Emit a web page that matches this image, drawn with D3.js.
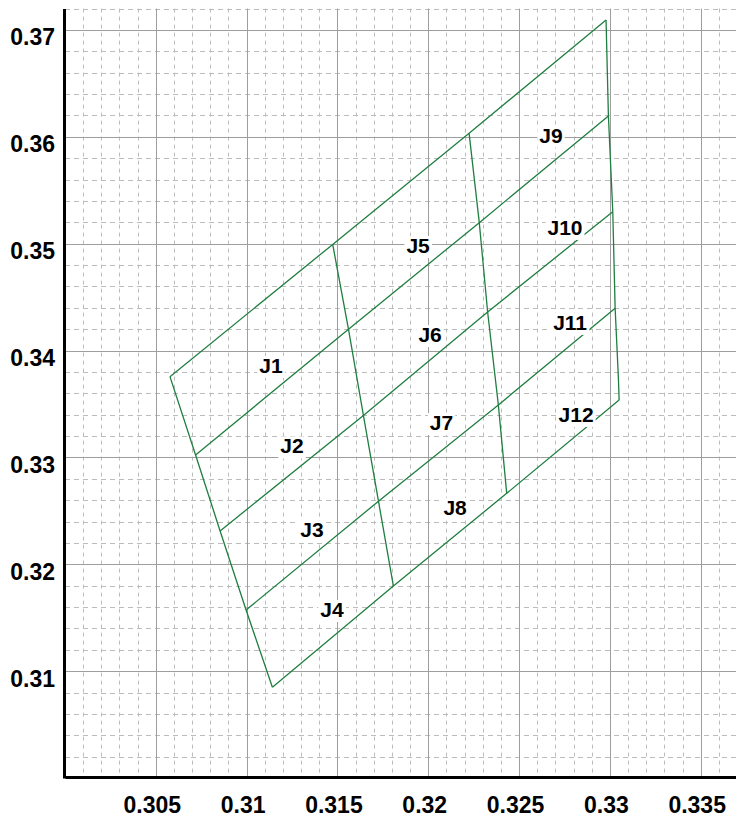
<!DOCTYPE html>
<html>
<head>
<meta charset="utf-8">
<script src="https://cdn.jsdelivr.net/npm/d3@7"></script>
<style>
body { margin: 0; background: #fff; }
text { font-family: "Liberation Sans", Arial, sans-serif; font-weight: bold; fill: #000; }
</style>
</head>
<body>
<script>
// bin grid nodes (x, y), each row goes left edge -> divider 1 -> divider 2 -> right edge
var topEdge    = [[0.30578, 0.33756], [0.31474, 0.34993], [0.32225, 0.36033], [0.32979, 0.37094]];
var row1       = [[0.30719, 0.33023], [0.31561, 0.34199], [0.32281, 0.35197], [0.32992, 0.36195]];
var row2       = [[0.30854, 0.32312], [0.31643, 0.33393], [0.32327, 0.34361], [0.33016, 0.35300]];
var row3       = [[0.30997, 0.31572], [0.31726, 0.32590], [0.32386, 0.33491], [0.33029, 0.34396]];
var bottomEdge = [[0.31142, 0.30849], [0.31808, 0.31797], [0.32432, 0.32664], [0.33051, 0.33538]];
// extra bend on the right edge between row3 and the bottom corner
var rightBend = [0.33047, 0.33741];

var binNames = ['J1', 'J2', 'J3', 'J4', 'J5', 'J6', 'J7', 'J8', 'J9', 'J10', 'J11', 'J12'];
var binX = [0.31134, 0.31250, 0.31360, 0.31470, 0.31944, 0.32010, 0.32073, 0.32148, 0.32676, 0.32753, 0.32781, 0.32814];
var binY = [0.33860, 0.33107, 0.32321, 0.31577, 0.34983, 0.34150, 0.33327, 0.32531, 0.36017, 0.35152, 0.34263, 0.33402];

var xTicks = [0.305, 0.31, 0.315, 0.32, 0.325, 0.33, 0.335];
var yTicks = [0.31, 0.32, 0.33, 0.34, 0.35, 0.36, 0.37];

var W = 736, H = 818;
var plotLeft = 65, plotRight = 737, plotBottom = 778, plotTop = 8.6;

var svg = d3.select('body').append('svg')
  .attr('width', W)
  .attr('height', H);

var x = d3.scaleLinear().domain([0.3, 0.337]).range([plotLeft, plotRight]);
var y = d3.scaleLinear().domain([0.3, 0.372]).range([plotBottom, plotTop]);

// minor dashed grid
var minorX = d3.range(1, 37).map(function (i) { return 0.3 + i * 0.001; })
  .filter(function (v, i) { return (i + 1) % 5 !== 0; });
var minorY = d3.range(1, 37).map(function (i) { return 0.3 + i * 0.002; })
  .filter(function (v, i) { return (i + 1) % 5 !== 0; });

var grid = svg.append('g');
grid.selectAll('.vminor').data(minorX).enter().append('line')
  .attr('x1', function (d) { return Math.round(x(d)) + 0.5; })
  .attr('x2', function (d) { return Math.round(x(d)) + 0.5; })
  .attr('y1', plotTop).attr('y2', plotBottom)
  .attr('stroke', '#bcbcbc').attr('stroke-dasharray', '4,4');
grid.selectAll('.hminor').data(minorY).enter().append('line')
  .attr('y1', function (d) { return Math.round(y(d)) + 0.5; })
  .attr('y2', function (d) { return Math.round(y(d)) + 0.5; })
  .attr('x1', plotLeft).attr('x2', plotRight)
  .attr('stroke', '#bcbcbc').attr('stroke-dasharray', '5,4');

// major grid
grid.selectAll('.vmajor').data(xTicks).enter().append('line')
  .attr('x1', function (d) { return Math.round(x(d)) + 0.5; })
  .attr('x2', function (d) { return Math.round(x(d)) + 0.5; })
  .attr('y1', plotTop).attr('y2', plotBottom)
  .attr('stroke', '#9e9e9e');
grid.selectAll('.hmajor').data(yTicks).enter().append('line')
  .attr('y1', function (d) { return Math.round(y(d)) + 0.5; })
  .attr('y2', function (d) { return Math.round(y(d)) + 0.5; })
  .attr('x1', plotLeft).attr('x2', plotRight)
  .attr('stroke', '#9e9e9e');

// bin outlines
var rows = [topEdge, row1, row2, row3, bottomEdge];
var line = d3.line()
  .x(function (d) { return x(d[0]); })
  .y(function (d) { return y(d[1]); });

var paths = rows.slice();
for (var c = 0; c < 4; c++) {
  var col = rows.map(function (r) { return r[c]; });
  if (c === 3) col.splice(4, 0, rightBend);
  paths.push(col);
}
svg.append('g').selectAll('path').data(paths).enter().append('path')
  .attr('d', line)
  .attr('fill', 'none')
  .attr('stroke', '#1f7e40')
  .attr('stroke-width', 1.3);

// bin labels on white boxes
var labels = svg.append('g').selectAll('g').data(binNames).enter().append('g');
labels.append('text')
  .attr('x', function (d, i) { return x(binX[i]); })
  .attr('y', function (d, i) { return y(binY[i]) + 7.5; })
  .attr('text-anchor', 'middle')
  .style('font-size', '21px')
  .text(function (d) { return d; });
labels.each(function () {
  var g = d3.select(this);
  var b = g.select('text').node().getBBox();
  g.insert('rect', 'text')
    .attr('x', b.x - 2).attr('y', b.y + 2)
    .attr('width', b.width + 4).attr('height', b.height - 1)
    .attr('fill', '#fff');
});

// axes
var xAxis = d3.axisBottom(x).tickValues(xTicks).tickSize(0).tickFormat(d3.format(''));
var yAxis = d3.axisLeft(y).tickValues(yTicks).tickSize(0).tickFormat(d3.format(''));

var gx = svg.append('g')
  .attr('transform', 'translate(0,' + (plotBottom - 1) + ')')
  .call(xAxis);
gx.select('.domain').attr('stroke', '#000').attr('stroke-width', 3);
gx.selectAll('.tick text')
  .attr('y', 0).attr('dy', 0)
  .attr('transform', 'translate(-4,36)')
  .style('font-size', '23px')
  .style('font-family', '"Liberation Sans", Arial, sans-serif')
  .style('font-weight', 'bold');

var gy = svg.append('g')
  .attr('transform', 'translate(' + (plotLeft - 1) + ',0)')
  .call(yAxis);
gy.select('.domain').attr('stroke', '#000').attr('stroke-width', 3);
gy.selectAll('.tick text')
  .attr('x', -9).attr('dy', 0)
  .attr('transform', 'translate(0,15)')
  .style('font-size', '23px')
  .style('font-family', '"Liberation Sans", Arial, sans-serif')
  .style('font-weight', 'bold');
</script>
</body>
</html>
